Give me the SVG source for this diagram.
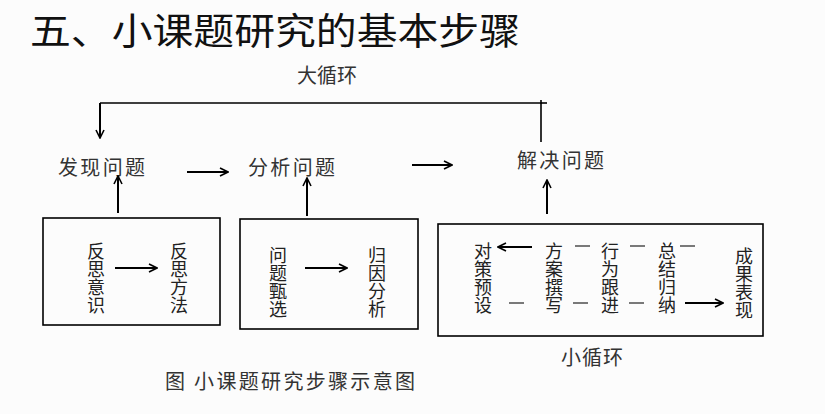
<svg xmlns="http://www.w3.org/2000/svg" width="825" height="414" viewBox="0 0 825 414">
<defs>
<marker id="ah" viewBox="0 0 10 10" refX="9" refY="5" markerWidth="10" markerHeight="10" markerUnits="userSpaceOnUse" orient="auto">
<path d="M1,1 L9,5 L1,9" fill="none" stroke="#000" stroke-width="1.6"/>
</marker>
<style>
text{font-family:"Noto Sans CJK SC","Noto Sans CJK JP",sans-serif;fill:#222}
.t{font-size:37px;fill:#111}
.l{font-size:20px;fill:#333}
.v{font-size:18px;fill:#222;writing-mode:vertical-rl;text-anchor:start}
.box{fill:none;stroke:#000;stroke-width:1.6}
.c{fill:none;stroke:#000;stroke-width:1.6}
.a{fill:none;stroke:#000;stroke-width:2;marker-end:url(#ah)}
.d{stroke:#222;stroke-width:1.2}
</style>
</defs>
<rect width="825" height="414" fill="#fcfcfc"/>
<text class="t" x="30" y="45" textLength="490" lengthAdjust="spacingAndGlyphs">五、小课题研究的基本步骤</text>
<text class="l" x="297" y="83" textLength="60">大循环</text>
<g id="nodes">
<g id="faxian"><text class="l" x="58" y="175" textLength="87">发现问题</text></g>
<g id="fenxi"><text class="l" x="248" y="175" textLength="87">分析问题</text></g>
<g id="jiejue"><text class="l" x="517" y="168" textLength="87">解决问题</text></g>
<g id="box1">
<rect class="box" x="43" y="218" width="177" height="107"/>
<text class="v" x="96" y="242">反思意识</text>
<text class="v" x="179" y="242">反思方法</text>
</g>
<g id="box2">
<rect class="box" x="240" y="219" width="178" height="110"/>
<text class="v" x="278" y="246">问题甄选</text>
<text class="v" x="377" y="246">归因分析</text>
</g>
<g id="box3">
<rect class="box" x="438" y="224" width="325" height="112"/>
<text class="v" x="483" y="242">对策预设</text>
<text class="v" x="554" y="242">方案撰写</text>
<text class="v" x="610" y="242">行为跟进</text>
<text class="v" x="667" y="242">总结归纳</text>
<text class="v" x="744" y="247">成果表现</text>
<line class="d" x1="575" y1="246" x2="590" y2="246"/>
<line class="d" x1="630" y1="246" x2="645" y2="246"/>
<line class="d" x1="680" y1="246" x2="695" y2="246"/>
<line class="d" x1="509" y1="303" x2="524" y2="303"/>
<line class="d" x1="573" y1="303" x2="588" y2="303"/>
<line class="d" x1="629" y1="303" x2="644" y2="303"/>
</g>
<text class="l" x="561" y="365" textLength="62">小循环</text>
<text class="l" x="165" y="389" textLength="250">图 小课题研究步骤示意图</text>
</g>
<g id="connectors">
<polyline class="c" points="541,142 541,103 100,103"/>
<line class="c" x1="541" y1="100" x2="541" y2="104"/>
<line class="c" x1="541" y1="103" x2="547" y2="103"/>
<line class="a" x1="100" y1="103" x2="100" y2="138"/>
<line class="a" x1="187" y1="172" x2="228" y2="172"/>
<line class="a" x1="412" y1="165" x2="452" y2="165"/>
<line class="a" x1="118" y1="213" x2="118" y2="176"/>
<line class="a" x1="307" y1="216" x2="307" y2="178"/>
<line class="a" x1="547" y1="214" x2="547" y2="180"/>
<line class="a" x1="115" y1="268" x2="157" y2="268"/>
<line class="a" x1="305" y1="268" x2="347" y2="268"/>
<line class="a" x1="532" y1="247" x2="498" y2="247"/>
<line class="a" x1="685" y1="303" x2="723" y2="303"/>
</g>
</svg>
